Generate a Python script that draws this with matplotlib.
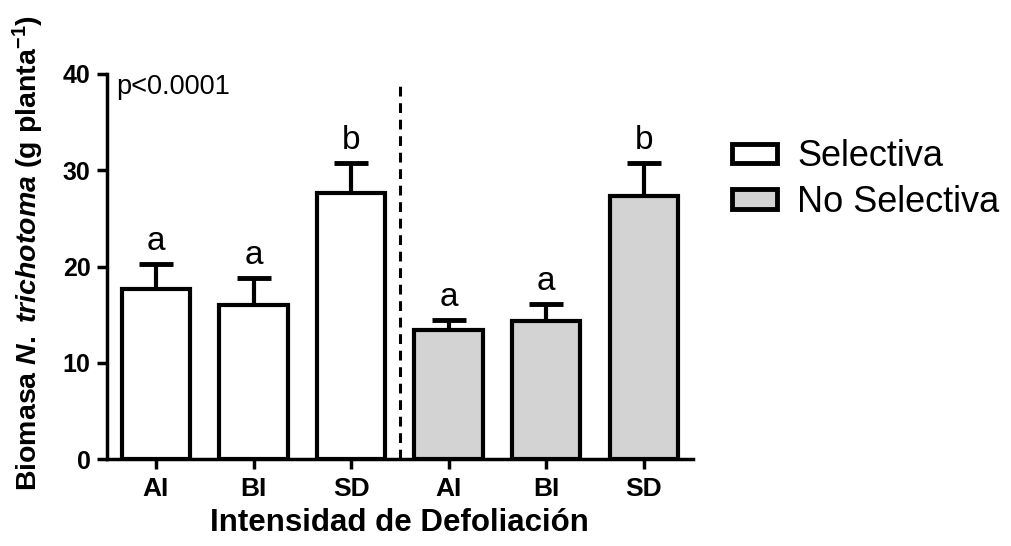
import matplotlib
matplotlib.use("Agg")
import matplotlib.pyplot as plt
from matplotlib.patches import Patch
import numpy as np

plt.rcParams['font.family'] = ['Liberation Sans', 'DejaVu Sans']
plt.rcParams['mathtext.fontset'] = 'custom'
plt.rcParams['mathtext.rm'] = 'Liberation Sans:bold'
plt.rcParams['mathtext.it'] = 'Liberation Sans:bold:italic'
plt.rcParams['mathtext.bf'] = 'Liberation Sans:bold'

categories = ["AI", "BI", "SD", "AI", "BI", "SD"]
groups = ["Selectiva", "Selectiva", "Selectiva", "No Selectiva", "No Selectiva", "No Selectiva"]
means = [17.7, 16.0, 27.6, 13.4, 14.4, 27.3]
errors = [2.6, 2.8, 3.2, 1.1, 1.7, 3.5]
letters = ["a", "a", "b", "a", "a", "b"]
group_colors = {"Selectiva": "white", "No Selectiva": "#d3d3d3"}

fig = plt.figure(figsize=(10.11, 5.46), dpi=100)
ax = fig.add_axes([0.106, 0.159, 0.579, 0.7055])

x = np.arange(len(categories))
colors = [group_colors[g] for g in groups]
ax.bar(x, means, width=0.7, color=colors, edgecolor='black', linewidth=3, zorder=3)
ax.errorbar(x, means, yerr=[np.zeros(len(errors)), errors], fmt='none',
            ecolor='black', elinewidth=3, capsize=12.5, capthick=3.5, zorder=2)
for xi, m, e, l in zip(x, means, errors, letters):
    ax.annotate(l, (xi, m + e), xytext=(0, 5), textcoords='offset points',
                ha='center', va='bottom', fontsize=24)

ax.axvline(2.5, ymin=0.0, ymax=0.985, color='black', linestyle=(0, (3.2, 2.2)), linewidth=2.2)

ax.set_xlim(-0.5, 5.5)
ax.set_ylim(0, 40)
ax.set_yticks([0, 10, 20, 30, 40])
ax.set_xticks(x)
ax.set_xticklabels(categories, fontsize=19, fontweight='bold')
ax.tick_params(axis='y', labelsize=18, width=2.5, length=7, direction='out', pad=5)
ax.tick_params(axis='x', width=2.5, length=7, direction='out', pad=6)
for lbl in ax.get_yticklabels():
    lbl.set_fontweight('bold')
for s in ['top', 'right']:
    ax.spines[s].set_visible(False)
for s in ['left', 'bottom']:
    ax.spines[s].set_linewidth(2.5)

ax.set_xlabel("Intensidad de Defoliación", fontsize=22.5, fontweight='bold', labelpad=5)
ax.set_ylabel(r"Biomasa $\mathit{N.}$ $\mathit{trichotoma}$ (g planta$^{\mathrm{-1}}$)",
              fontsize=20.5, fontweight='bold')
ax.yaxis.set_label_coords(-0.104, 0.535)

ax.text(0.015, 1.0, "p<0.0001", transform=ax.transAxes, fontsize=19.5, va='top', ha='left')

handles = [Patch(facecolor=group_colors[g], edgecolor='black', linewidth=3.5, label=g)
           for g in ["Selectiva", "No Selectiva"]]
fig.legend(handles=handles, loc='upper left', bbox_to_anchor=(0.724, 0.745), frameon=False,
           fontsize=26, handlelength=1.25, handleheight=0.45, handletextpad=0.55,
           labelspacing=0.3, borderpad=0, borderaxespad=0)

fig.savefig("out.png", dpi=100)
